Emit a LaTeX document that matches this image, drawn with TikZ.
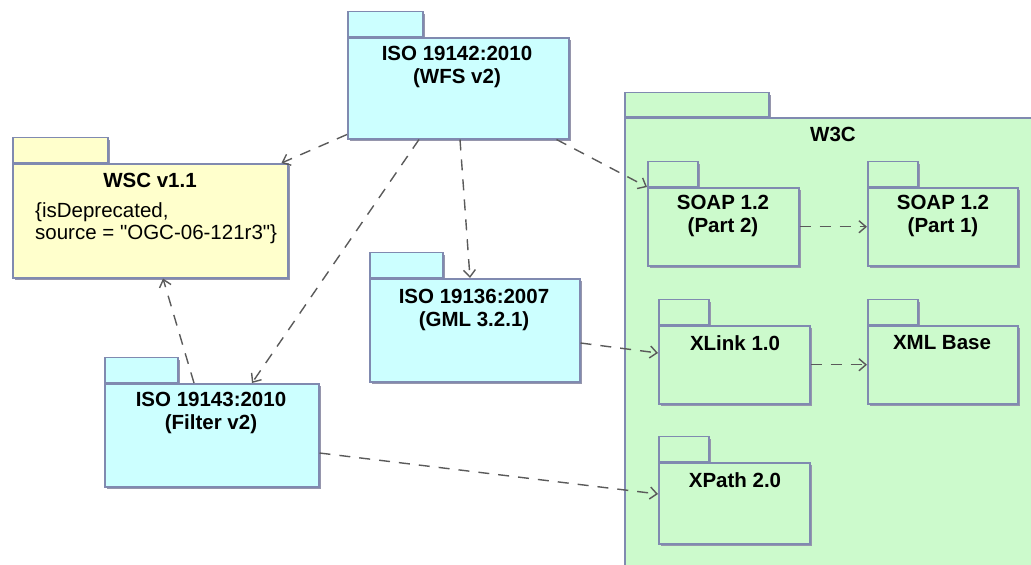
\documentclass[tikz,border=0pt]{standalone}
\usepackage{fontspec}
\setmainfont{Liberation Sans}[Ligatures=TeXOff]
\usepackage{tikz}
\usetikzlibrary{arrows.meta, shadows}
\usepackage{xcolor}

\definecolor{pkgline}{RGB}{128,138,176}
\definecolor{cyanfill}{RGB}{204,255,255}
\definecolor{yellowfill}{RGB}{255,255,204}
\definecolor{greenfill}{RGB}{204,250,204}
\definecolor{depgray}{RGB}{90,90,90}
\definecolor{shadowgray}{RGB}{150,150,172}

\tikzset{
    pkgbody/.style={draw=pkgline, line width=1.5pt, rectangle, inner sep=0pt, anchor=north west,
        drop shadow={shadow xshift=2.5pt, shadow yshift=-2.5pt, fill=shadowgray, opacity=1}},
    pkgtab/.style={pkgbody, anchor=south west},
    pkgtitle/.style={font=\fontsize{20.5}{23}\selectfont\bfseries, align=center, inner sep=0pt},
    pkgnote/.style={font=\fontsize{20.5}{22}\selectfont, align=left, anchor=west, inner sep=0pt},
    dep/.style={draw=depgray, line width=1.4pt, dash pattern=on 11pt off 9pt,
        -{Straight Barb[length=7pt, width=12pt]}}
}

\begin{document}
\begin{tikzpicture}[x=1pt, y=-1pt]
    \useasboundingbox (0,0) rectangle (1031,565);

    % Package WFS
    \node[pkgtab, fill=cyanfill, minimum width=75, minimum height=25] (WFStab) at (347,37) {};
    \node[pkgbody, fill=cyanfill, minimum width=221, minimum height=101] (WFS) at (347,37) {};
    \node[pkgtitle] (WFSname) at (457,67) {ISO 19142:2010\\(WFS v2)};

    % Package WSC
    \node[pkgtab, fill=yellowfill, minimum width=95, minimum height=25] (WSCtab) at (12,163) {};
    \node[pkgbody, fill=yellowfill, minimum width=275, minimum height=114] (WSC) at (12,163) {};
    \node[pkgtitle] (WSCname) at (150,180.5) {WSC v1.1};
    \node[pkgnote] (WSCnote) at (35,223) {\{isDeprecated,\\source = "OGC-06-121r3"\}};

    % Package GML
    \node[pkgtab, fill=cyanfill, minimum width=73, minimum height=25] (GMLtab) at (369,278) {};
    \node[pkgbody, fill=cyanfill, minimum width=210, minimum height=103] (GML) at (369,278) {};
    \node[pkgtitle] (GMLname) at (474,310) {ISO 19136:2007\\(GML 3.2.1)};

    % Package Filter
    \node[pkgtab, fill=cyanfill, minimum width=73, minimum height=25] (Filtertab) at (104,383) {};
    \node[pkgbody, fill=cyanfill, minimum width=214, minimum height=103] (Filter) at (104,383) {};
    \node[pkgtitle] (Filtername) at (211,413) {ISO 19143:2010\\(Filter v2)};

    % Package W3C
    \node[pkgtab, fill=greenfill, minimum width=144, minimum height=24] (W3Ctab) at (624,117) {};
    \node[pkgbody, fill=greenfill, minimum width=420, minimum height=460] (W3C) at (624,117) {};
    \node[pkgtitle] (W3Cname) at (833,134) {W3C};

    % Packages inside W3C
    \node[pkgtab, fill=greenfill, minimum width=50, minimum height=25] (SOAPtwotab) at (647,187) {};
    \node[pkgbody, fill=greenfill, minimum width=151, minimum height=78] (SOAPtwo) at (647,187) {};
    \node[pkgtitle] (SOAPtwoname) at (723,216) {SOAP 1.2\\(Part 2)};

    \node[pkgtab, fill=greenfill, minimum width=50, minimum height=25] (SOAPonetab) at (867,187) {};
    \node[pkgbody, fill=greenfill, minimum width=150, minimum height=78] (SOAPone) at (867,187) {};
    \node[pkgtitle] (SOAPonename) at (943,216) {SOAP 1.2\\(Part 1)};

    \node[pkgtab, fill=greenfill, minimum width=50, minimum height=25] (XLinktab) at (658,325) {};
    \node[pkgbody, fill=greenfill, minimum width=151, minimum height=78] (XLink) at (658,325) {};
    \node[pkgtitle] (XLinkname) at (735,343) {XLink 1.0};

    \node[pkgtab, fill=greenfill, minimum width=50, minimum height=25] (XMLBasetab) at (867,325) {};
    \node[pkgbody, fill=greenfill, minimum width=150, minimum height=78] (XMLBase) at (867,325) {};
    \node[pkgtitle] (XMLBasename) at (942,343) {XML Base};

    \node[pkgtab, fill=greenfill, minimum width=50, minimum height=25] (XPathtab) at (658,462) {};
    \node[pkgbody, fill=greenfill, minimum width=151, minimum height=81] (XPath) at (658,462) {};
    \node[pkgtitle] (XPathname) at (735,480) {XPath 2.0};

    % Dependencies
    \draw[dep] ([yshift=5pt]WFS.south west) -- ([xshift=-7pt]WSC.north east);
    \draw[dep] ([xshift=72pt]WFS.south west) -- ([xshift=148pt]Filter.north west);
    \draw[dep] ([xshift=113pt]WFS.south west) -- ([xshift=101pt]GML.north west);
    \draw[dep] ([xshift=-13pt]WFS.south east) -- (SOAPtwo.north west);
    \draw[dep] ([xshift=90pt]Filter.north west) -- ([xshift=151pt]WSC.south west);
    \draw[dep] ([yshift=-65pt]GML.north east) -- ([yshift=-28pt]XLink.north west);
    \draw[dep] ([yshift=-70pt]Filter.north east) -- ([yshift=-32pt]XPath.north west);
    \draw[dep] (SOAPtwo) -- (SOAPone);
    \draw[dep] (XLink) -- (XMLBase);
\end{tikzpicture}
\end{document}
